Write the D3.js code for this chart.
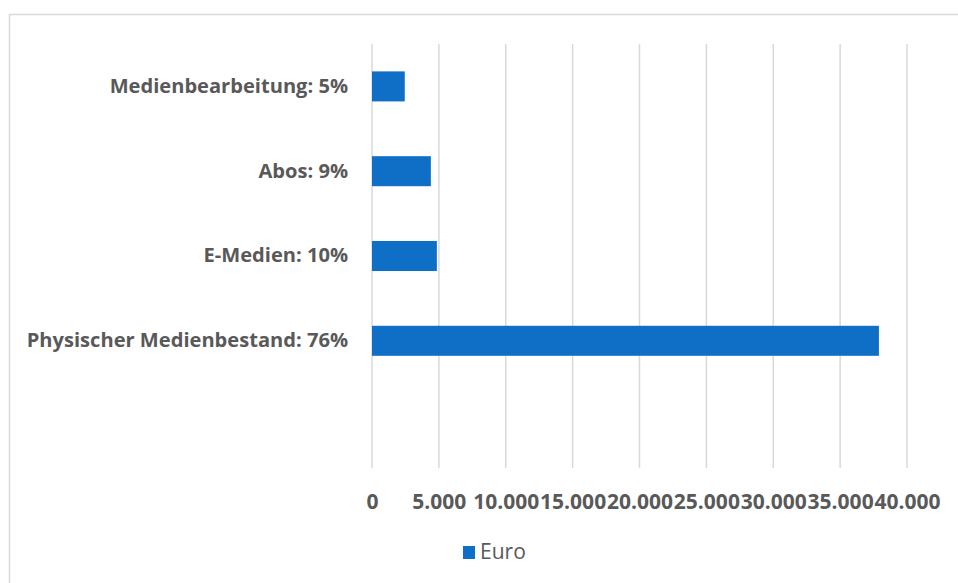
<!DOCTYPE html>
<html>
<head>
<meta charset="utf-8">
<script src="https://cdn.jsdelivr.net/npm/d3@7"></script>
<style>
  body { margin: 0; background: #fff; }
  text { font-family: "Open Sans", sans-serif; fill: #595959; }
</style>
</head>
<body>
<svg id="chart" width="958" height="583"></svg>
<script>
// categories top to bottom (the last slot is empty in the original chart)
const categories = ["Medienbearbeitung: 5%", "Abos: 9%", "E-Medien: 10%", "Physischer Medienbestand: 76%", ""];
const euroValues = [2450, 4400, 4850, 37900, null];
const tickValues = [0, 5000, 10000, 15000, 20000, 25000, 30000, 35000, 40000];
const seriesName = "Euro";

let svg = d3.select("#chart");

let plotLeft = 372, plotRight = 907, plotTop = 44, plotBottom = 468;

let de = d3.formatLocale({decimal: ",", thousands: ".", grouping: [3], currency: ["", " €"]});
let fmt = de.format(",");

let xScale = d3.scaleLinear()
    .domain([0, d3.max(tickValues)])
    .range([plotLeft, plotRight]);

let yScale = d3.scaleBand()
    .domain(categories)
    .range([plotTop, plotBottom])
    .paddingInner(0.646)
    .paddingOuter(0.323);

// outer frame of the chart area
svg.append("path")
    .attr("d", "M9.5,583 V14.5 H958")
    .attr("fill", "none")
    .attr("stroke", "#d9d9d9")
    .attr("stroke-width", 1.5);

// vertical gridlines
svg.append("g")
    .selectAll("line")
    .data(tickValues)
    .enter()
    .append("line")
    .attr("x1", d => xScale(d))
    .attr("x2", d => xScale(d))
    .attr("y1", plotTop)
    .attr("y2", plotBottom)
    .attr("stroke", "#d9d9d9")
    .attr("stroke-width", 1.5);

// x axis labels (no domain line, no ticks)
let xAxis = d3.axisBottom(xScale)
    .tickValues(tickValues)
    .tickFormat(fmt)
    .tickSize(0)
    .tickPadding(0);

let gX = svg.append("g")
    .attr("transform", "translate(0," + 494 + ")")
    .call(xAxis);
gX.select(".domain").remove();
gX.selectAll("text")
    .attr("dy", "0.71em")
    .style("font-family", "\"Open Sans\", sans-serif")
    .style("font-size", "21px")
    .style("font-weight", "bold")
    .style("fill", "#595959");

// category labels
let yAxis = d3.axisLeft(yScale)
    .tickSize(0)
    .tickPadding(24);

let gY = svg.append("g")
    .attr("transform", "translate(" + plotLeft + ",0)")
    .call(yAxis);
gY.select(".domain").remove();
gY.selectAll("text")
    .style("font-family", "\"Open Sans\", sans-serif")
    .style("font-size", "20.1px")
    .style("font-weight", "bold")
    .style("fill", "#595959");

// bars
let rows = categories.map((c, i) => ({cat: c, value: euroValues[i]}))
    .filter(d => d.value != null);

svg.append("g")
    .selectAll("rect")
    .data(rows)
    .enter()
    .append("rect")
    .attr("x", xScale(0))
    .attr("y", d => yScale(d.cat))
    .attr("width", d => xScale(d.value) - xScale(0))
    .attr("height", yScale.bandwidth())
    .attr("fill", "#0f6fc6");

// legend
let legend = svg.append("g").attr("transform", "translate(463,546)");
legend.append("rect")
    .attr("width", 12)
    .attr("height", 13)
    .attr("fill", "#0f6fc6");
legend.append("text")
    .attr("x", 17)
    .attr("y", 13)
    .style("font-size", "21px")
    .text(seriesName);
</script>
</body>
</html>
